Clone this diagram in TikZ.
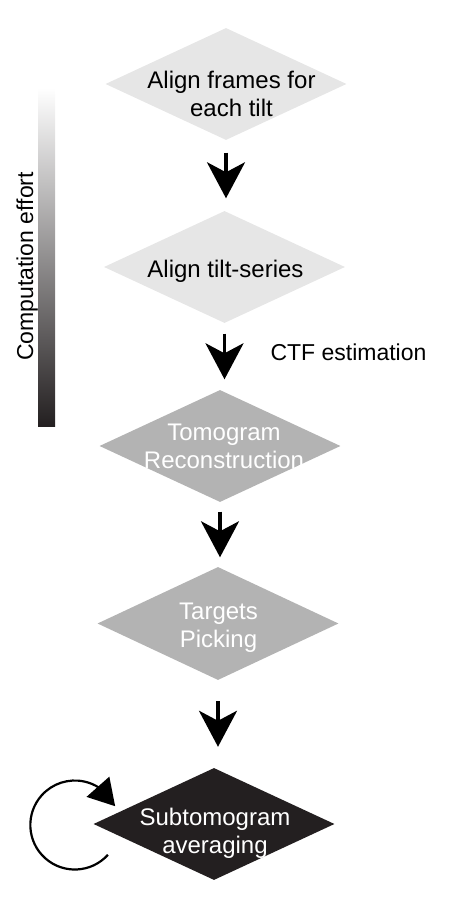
\documentclass[tikz,border=0pt]{standalone}
\usepackage{fontspec}
\setmainfont{Liberation Sans}
\usetikzlibrary{shapes.geometric,arrows.meta,bending}
\definecolor{palestep}{HTML}{E6E6E6}
\definecolor{midstep}{HTML}{B3B3B3}
\definecolor{darkstep}{HTML}{231F20}

\begin{document}
\begin{tikzpicture}
  [x=1pt,y=1pt,
   stepbox/.style={diamond, inner sep=0pt, minimum width=241pt, minimum height=112pt},
   steptext/.style={align=center, font=\fontsize{24}{28}\selectfont},
   sidetext/.style={font=\fontsize{23}{27}\selectfont},
   flow/.style={line width=3.5pt, -{Stealth[length=36pt,width=38pt,inset=10pt]}},
   loopback/.style={line width=2.2pt, -{Triangle[length=26pt,width=30pt,flex]}}]
  \useasboundingbox (0,0) rectangle (458,910);

  \node (d1) [stepbox, fill=palestep] at (226,826) {};
  \node (d2) [stepbox, fill=palestep] at (224.5,643) {};
  \node (d3) [stepbox, fill=midstep] at (220,464) {};
  \node (d4) [stepbox, fill=midstep, minimum height=113pt] at (218,286.5) {};
  \node (d5) [stepbox, fill=darkstep] at (214,86) {};

  \node (t1) [steptext] at ([xshift=5.5pt,yshift=-9.5pt]d1) {Align frames for\\each tilt};
  \node (t2) [steptext] at ([xshift=1pt,yshift=-4pt]d2) {Align tilt-series};
  \node (t3) [steptext, text=white] at ([xshift=4pt]d3) {Tomogram\\Reconstruction};
  \node (t4) [steptext, text=white] at ([xshift=0.5pt,yshift=-4pt]d4) {Targets\\Picking};
  \node (t5) [steptext, text=white] at ([xshift=1pt,yshift=-9pt]d5) {Subtomogram\\averaging};

  \foreach \from/\to/\gap in {d1/d2/12.5, d2/d3/10.5, d3/d4/9.5, d4/d5/21}
    \draw[flow, shorten <=\gap pt, shorten >=\gap pt] (\from.south) -- (\from.south |- \to.north);

  \draw[loopback] ([shift={(14.6,-30.8)}]d5.west) arc[start angle=-42, end angle=-335, radius=44.5];

  \node (ctf) [sidetext, anchor=base west] at (267,549) {CTF estimation};

  \shade[top color=white, bottom color=darkstep] (38,483) rectangle (55,822);
  \node (effort) [sidetext, rotate=90, anchor=base] at (33,643.5) {Computation effort};

\end{tikzpicture}
\end{document}
